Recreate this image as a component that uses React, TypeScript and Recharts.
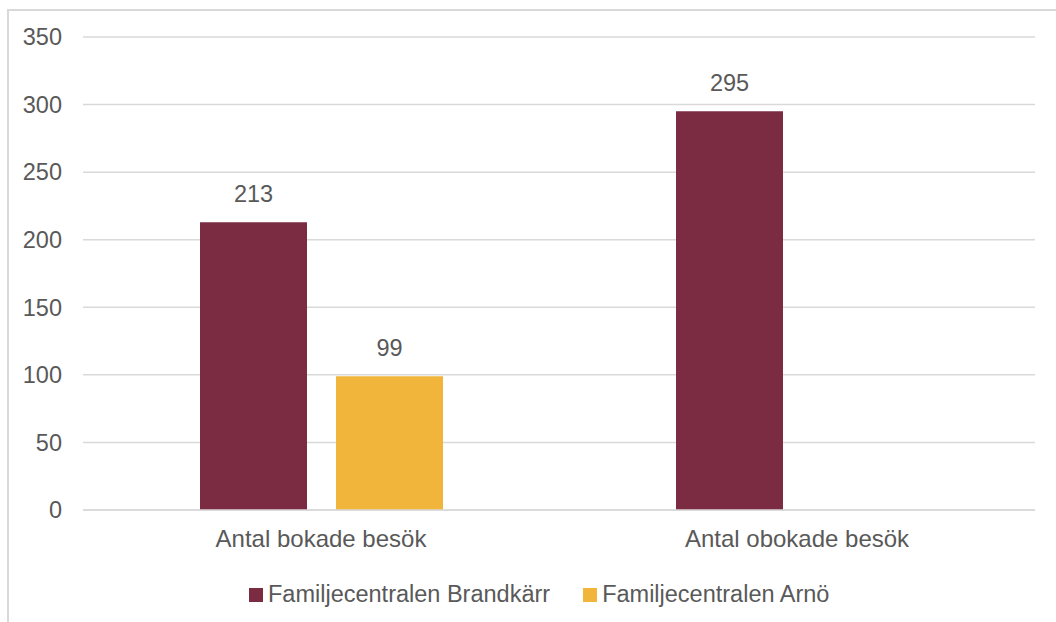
import { Bar, BarChart, CartesianGrid, LabelList, Legend, XAxis, YAxis } from "recharts";

const categories = ["Antal bokade besök", "Antal obokade besök"];
const brandkarr = [213, 295];
const arno: (number | null)[] = [99, null];
const yTicks = [0, 50, 100, 150, 200, 250, 300, 350];

const seriesNames = ["Familjecentralen Brandkärr", "Familjecentralen Arnö"];
const colors = ["#7B2C42", "#F2B53C"];

const data = categories.map((name, i) => ({
  name,
  brandkarr: brandkarr[i],
  arno: arno[i],
}));

const font = '"Liberation Sans", Arial, sans-serif';
const textColor = "#595959";

function LegendContent() {
  return (
    <div style={{ display: "flex", alignItems: "center", fontFamily: font, fontSize: 23.5, color: textColor, whiteSpace: "nowrap" }}>
      {seriesNames.map((s, i) => (
        <div key={s} style={{ display: "flex", alignItems: "center", marginRight: i === 0 ? 33 : 0 }}>
          <span style={{ display: "inline-block", width: 14, height: 14, background: colors[i], marginRight: 5 }} />
          <span>{s}</span>
        </div>
      ))}
    </div>
  );
}

export default function App() {
  return (
    <div style={{ position: "absolute", left: 0, top: 0, width: 1056, height: 622, overflow: "hidden", background: "#fff" }}>
      <div
        style={{
          position: "absolute",
          left: 7,
          top: 9,
          width: 1200,
          height: 800,
          border: "2px solid #D9D9D9",
          boxSizing: "border-box",
        }}
      />
      <div style={{ position: "absolute", left: 0, top: 0 }}>
        <BarChart
          width={1056}
          height={622}
          data={data}
          margin={{ top: 37, right: 21, left: 0, bottom: 0 }}
          barSize={107}
          barGap={29}
        >
          <CartesianGrid vertical={false} stroke="#D9D9D9" strokeWidth={1.5} />
          <XAxis
            dataKey="name"
            height={112}
            axisLine={{ stroke: "#D9D9D9", strokeWidth: 1.5 }}
            tickLine={false}
            tickMargin={14}
            tick={{ fill: textColor, fontSize: 24, fontFamily: font }}
          />
          <YAxis
            width={83}
            domain={[0, 350]}
            ticks={yTicks}
            axisLine={false}
            tickLine={false}
            tickMargin={15}
            tick={{ fill: textColor, fontSize: 23.5, fontFamily: font }}
          />
          <Legend
            layout="horizontal"
            verticalAlign="middle"
            align="center"
            wrapperStyle={{ top: 581, left: 249, width: "auto" }}
            content={() => <LegendContent />}
          />
          <Bar dataKey="brandkarr" name={seriesNames[0]} fill={colors[0]} isAnimationActive={false}>
            <LabelList dataKey="brandkarr" position="top" offset={20} fill={textColor} fontSize={23.5} fontFamily={font} />
          </Bar>
          <Bar dataKey="arno" name={seriesNames[1]} fill={colors[1]} isAnimationActive={false}>
            <LabelList dataKey="arno" position="top" offset={20} fill={textColor} fontSize={23.5} fontFamily={font} />
          </Bar>
        </BarChart>
      </div>
    </div>
  );
}
